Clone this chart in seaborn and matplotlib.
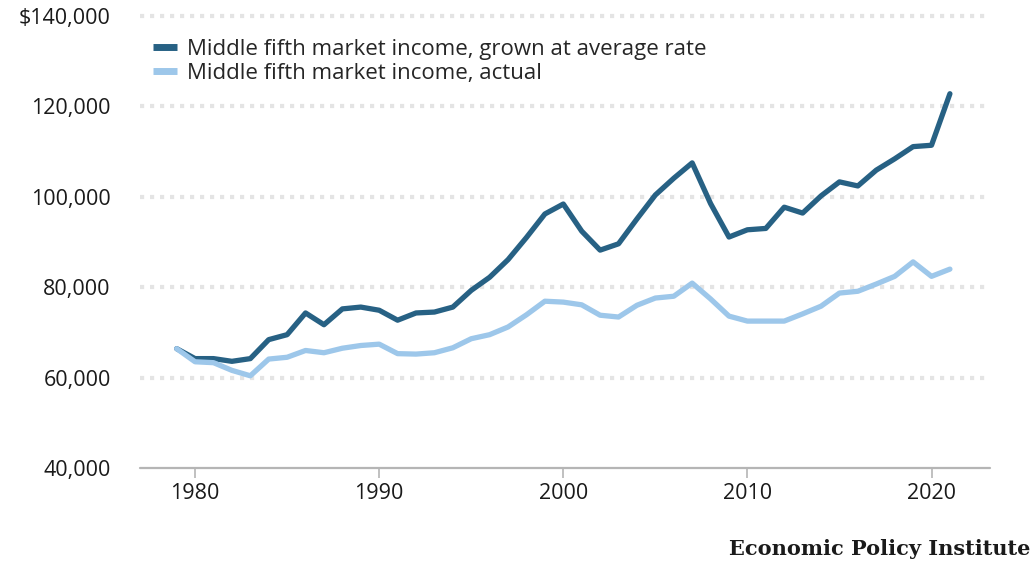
import matplotlib
matplotlib.use("Agg")
import matplotlib.pyplot as plt
import seaborn as sns
import pandas as pd
import numpy as np

years = list(range(1979, 2022))
grown = [66400, 64200, 64200, 63600, 64200, 68400, 69500, 74300, 71700, 75200,
         75600, 74900, 72700, 74300, 74500, 75600, 79300, 82200, 86100, 91000,
         96200, 98400, 92400, 88200, 89600, 95100, 100400, 104100, 107500, 98500,
         91100, 92700, 93000, 97700, 96400, 100200, 103300, 102400, 105900, 108400,
         111100, 111400, 122800]
actual = [66400, 63500, 63300, 61600, 60400, 64100, 64500, 66000, 65500, 66500,
          67100, 67400, 65300, 65200, 65500, 66600, 68600, 69500, 71200, 73900,
          76900, 76700, 76100, 73800, 73400, 76000, 77600, 78000, 80900, 77400,
          73600, 72500, 72500, 72500, 74100, 75800, 78700, 79100, 80700, 82400,
          85600, 82400, 84000]
series_names = ["Middle fifth market income, grown at average rate",
                "Middle fifth market income, actual"]
y_ticks = [40000, 60000, 80000, 100000, 120000, 140000]
y_labels = ["40,000", "60,000", "80,000", "100,000", "120,000", "$140,000"]
x_ticks = [1980, 1990, 2000, 2010, 2020]

df = pd.DataFrame({
    "year": years * 2,
    "value": grown + actual,
    "series": [series_names[0]] * len(years) + [series_names[1]] * len(years),
})

sns.set_theme(style="white")
plt.rcParams["font.family"] = ["Open Sans", "DejaVu Sans"]

fig = plt.figure(figsize=(10.36, 5.69), dpi=100)
ax = fig.add_axes([0.135, 0.1775, 0.821, 0.7944])

palette = {series_names[0]: "#276184", series_names[1]: "#9dc7ea"}
sns.lineplot(data=df, x="year", y="value", hue="series", palette=palette,
             hue_order=series_names, linewidth=3.8, ax=ax, legend=True,
             solid_capstyle="round", zorder=3)

ax.set_xlim(1977, 2023.2)
ax.set_ylim(40000, 140000)
ax.set_yticks(y_ticks)
ax.set_yticklabels(y_labels)
ax.set_xticks(x_ticks)
ax.set_xticklabels([str(x) for x in x_ticks])
ax.set_xlabel("")
ax.set_ylabel("")

for yv in y_ticks[1:]:
    ax.axhline(yv, color="#e4e4e4", linewidth=3, linestyle=(0, (1, 1.4)),
               zorder=1, clip_on=False)
ax.axhline(40000, color="#b5b5b5", linewidth=1.6, zorder=2, clip_on=False)

for s in ax.spines.values():
    s.set_visible(False)

ax.tick_params(axis="y", length=0, pad=21, labelsize=15.5, labelcolor="#1a1a1a")
ax.tick_params(axis="x", length=7, width=1.2, color="#b5b5b5", direction="out",
               pad=4, labelsize=15.5, labelcolor="#1a1a1a", bottom=True)
for lab in ax.get_yticklabels():
    lab.set_horizontalalignment("right")

leg = ax.legend(loc="upper left", bbox_to_anchor=(-0.003, 0.983), frameon=False,
                fontsize=16, handlelength=1.1, handletextpad=0.42,
                labelspacing=0.12, borderaxespad=0.3)
for h in leg.get_lines():
    h.set_linewidth(5)
    h.set_solid_capstyle("butt")

fig.text(0.995, 0.035, "Economic Policy Institute", ha="right", va="center",
         fontsize=15, fontweight="bold", family=["DejaVu Serif"],
         color="#1a1a1a")

fig.savefig("out.png", dpi=100)
